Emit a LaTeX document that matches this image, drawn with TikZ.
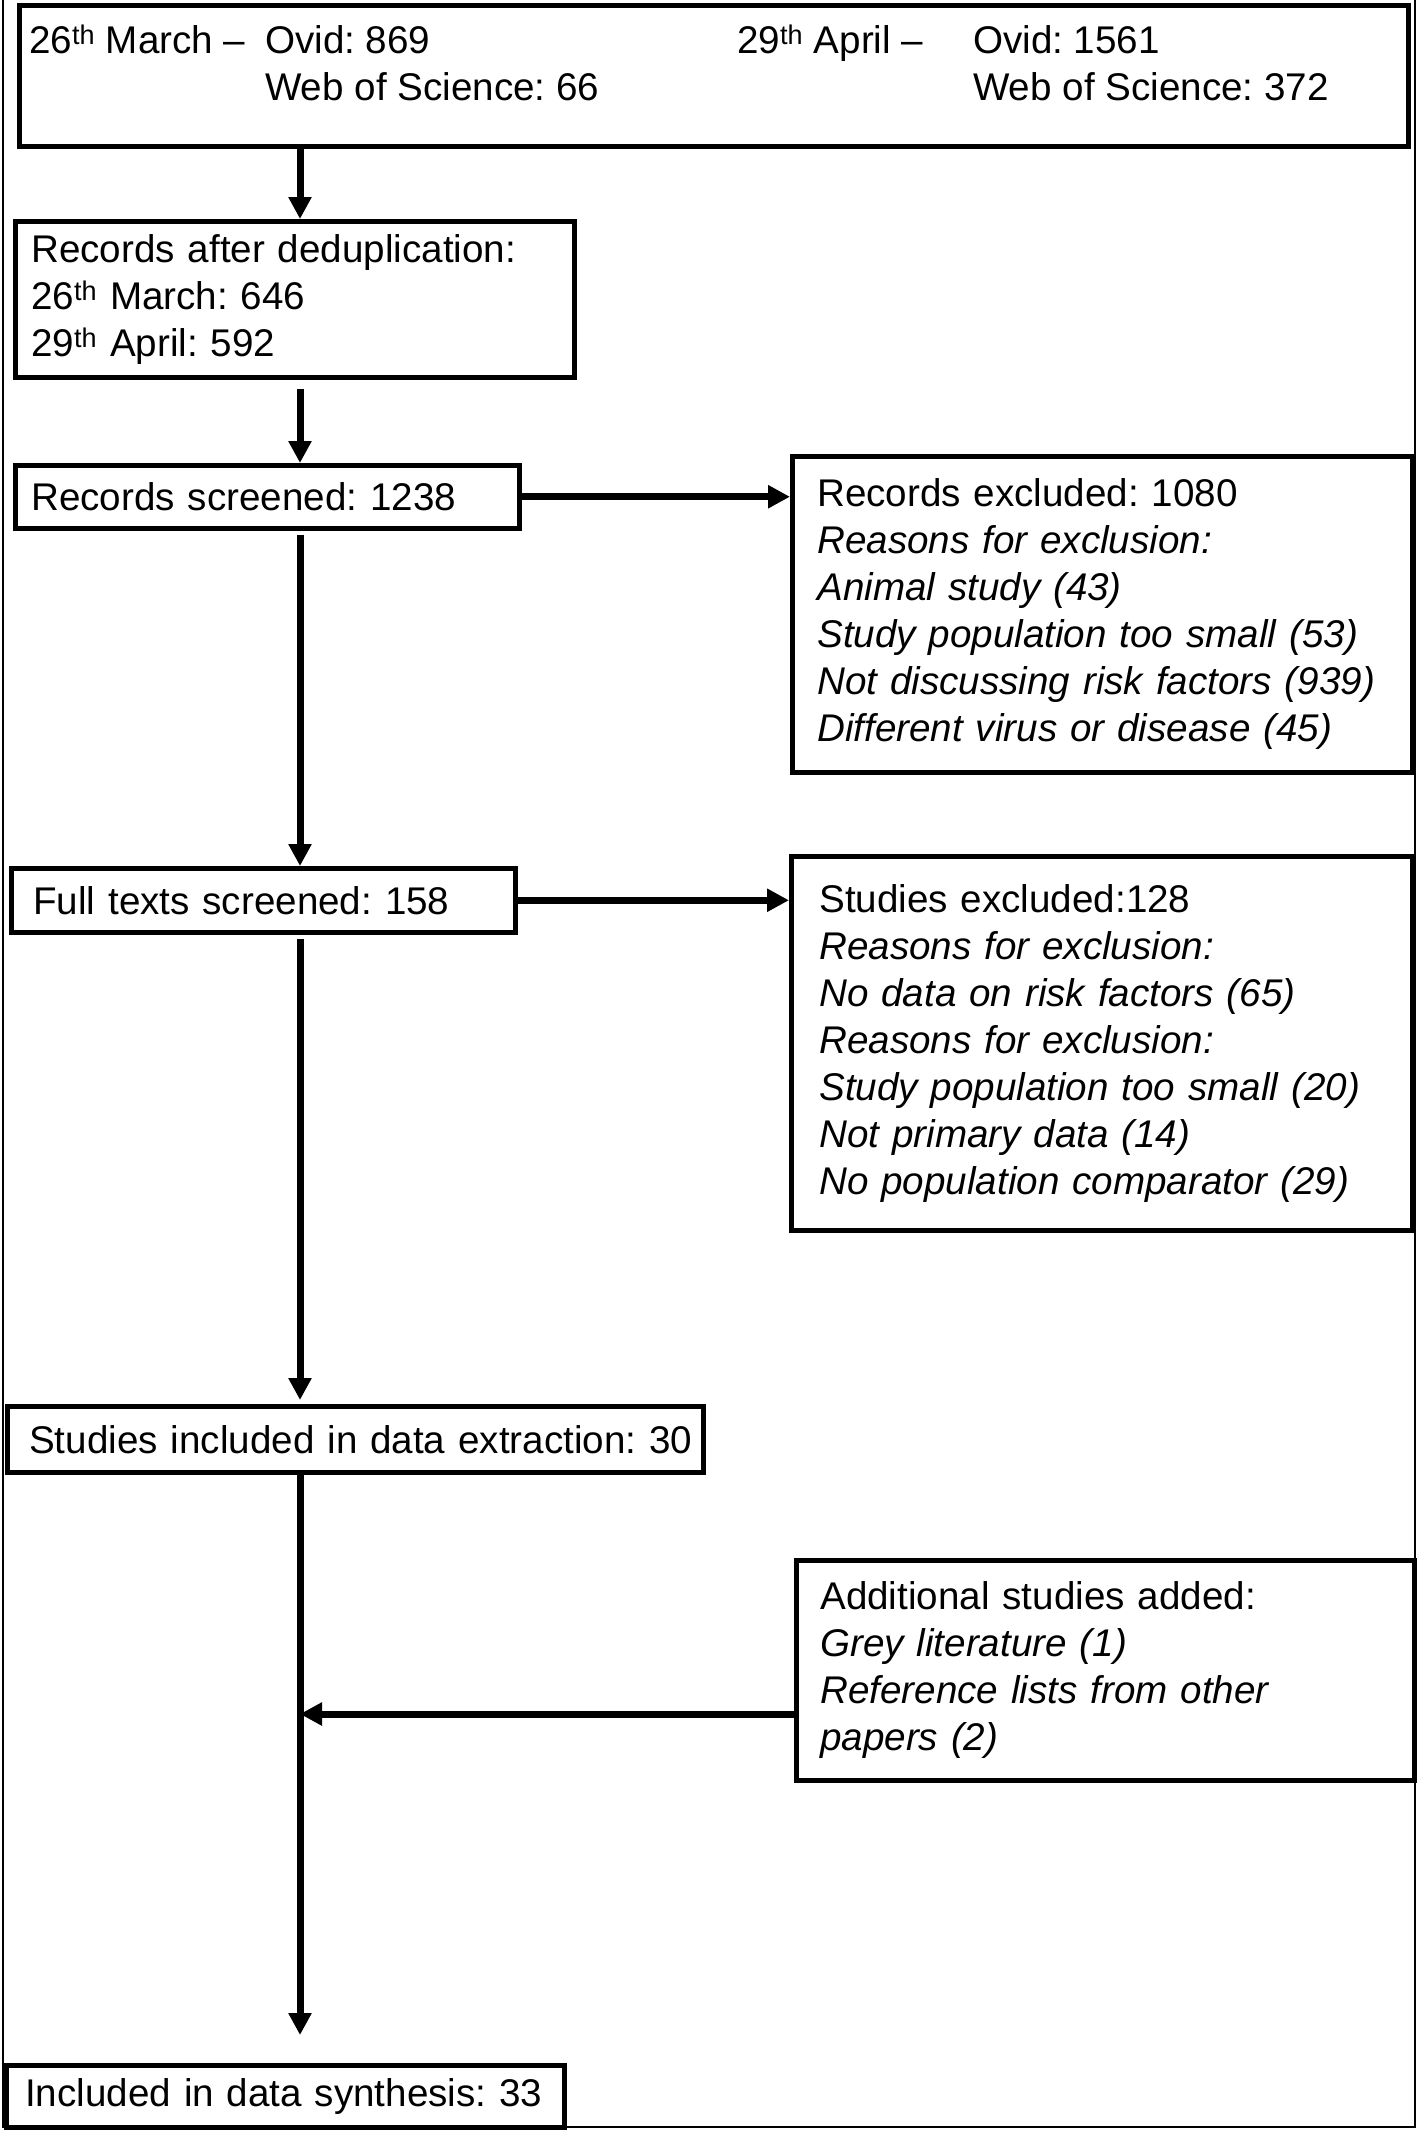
\documentclass[tikz,border=0pt]{standalone}
\usepackage{fontspec}
\setmainfont{Liberation Sans}
\usetikzlibrary{arrows.meta}
\begin{document}
\frenchspacing
\begin{tikzpicture}[x=1pt,y=-1pt,
  txt/.style={font=\fontsize{38.6}{47}\selectfont\frenchspacing},
  box/.style={draw, line width=4.5pt, rectangle, anchor=north west, align=left, inner ysep=0pt, txt},
  lbl/.style={anchor=base west, inner sep=0pt, txt},
  arr/.style={line width=7pt, -{Triangle[length=22pt,width=22pt]}},
  frame/.style={line width=2pt},
]
\useasboundingbox (0,0) rectangle (1418,2130);

% outer frame
\draw[frame] (3,0) -- (3,2127) -- (1415,2127) -- (1415,0);

% top box
\node[box, line width=5pt, minimum width=1389pt, minimum height=141pt] (top) at (17,3) {};
\node[lbl] (t1) at (29,54) {26\textsuperscript{th} March –};
\node[lbl] (t2) at (265,54) {Ovid: 869};
\node[lbl] (t3) at (265,101) {Web of Science: 66};
\node[lbl] (t4) at (737,54) {29\textsuperscript{th} April –};
\node[lbl] (t5) at (973,54) {Ovid: 1561};
\node[lbl] (t6) at (973,101) {Web of Science: 372};

% left column
\node[box, inner xsep=16pt, text width=527pt, minimum height=156pt] (dedup) at (13,219)
  {Records after deduplication:\\26\textsuperscript{th} March: 646\\29\textsuperscript{th} April: 592};
\node[box, inner xsep=16pt, text width=472pt, minimum height=63pt] (screen) at (13,463)
  {Records screened: 1238};
\node[box, inner xsep=22pt, text width=460pt, minimum height=64pt] (full) at (9,866)
  {Full texts screened: 158};
\node[box, inner xsep=10pt, text width=676pt, minimum height=66pt] (extract) at (5,1404)
  {\hspace*{12pt}\mbox{Studies included in data extraction: 30}};
\node[box, inner xsep=10pt, text width=538pt, minimum height=62pt] (synth) at (4,2063)
  {\hspace*{9pt}\mbox{Included in data synthesis: 33}};

% right column
\node[box, inner xsep=25pt, text width=570pt, minimum height=316pt] (excl1) at (790,454)
  {Records excluded: 1080\\\textit{Reasons for exclusion:}\\\textit{Animal study (43)}\\\textit{Study population too small (53)}\\\textit{Not discussing risk factors (939)}\\\textit{Different virus or disease (45)}};
\node[box, inner xsep=28pt, text width=565pt, minimum height=374pt] (excl2) at (789,854)
  {Studies excluded:128\\\textit{Reasons for exclusion:}\\\textit{No data on risk factors (65)}\\\textit{Reasons for exclusion:}\\\textit{Study population too small (20)}\\\textit{Not primary data (14)}\\\textit{No population comparator (29)}};
\node[box, inner xsep=24pt, text width=570pt, minimum height=220pt] (add) at (794,1558)
  {Additional studies added:\\\textit{Grey literature (1)}\\\textit{Reference lists from other}\\\textit{papers (2)}};

% connectors
\coordinate (ax) at (300,0);
\coordinate (join) at (300,1714);
\draw[arr] (top.south -| ax) -- (dedup.north -| ax);
\draw[arr, shorten <=9pt] (dedup.south -| ax) -- (screen.north -| ax);
\draw[arr, shorten <=4pt] (screen.south -| ax) -- (full.north -| ax);
\draw[arr, shorten <=4pt, shorten >=4pt] (full.south -| ax) -- (extract.north -| ax);
\draw[arr, shorten >=28pt] (extract.south -| ax) -- (synth.north -| ax);
\draw[arr] (screen.east) -- (screen.east -| excl1.west);
\draw[arr] (full.east) -- (full.east -| excl2.west);
\draw[arr] (add.west |- join) -- (join);
\end{tikzpicture}
\end{document}
